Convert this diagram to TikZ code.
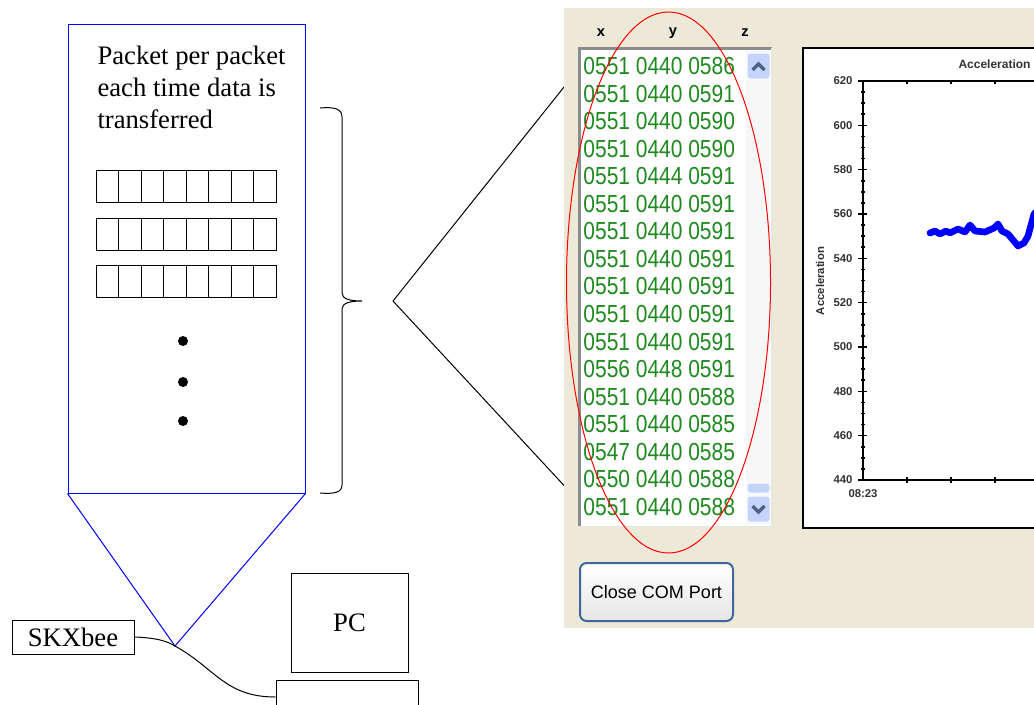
\documentclass[tikz,border=0pt]{standalone}
\usepackage{fontspec}
\setmainfont{Liberation Serif}
\newfontfamily\guifont{Liberation Sans}
\definecolor{panelbg}{HTML}{ECE9D8}
\definecolor{listgreen}{HTML}{1F8A1F}
\definecolor{btnedge}{HTML}{3D6898}
\definecolor{scrollblue}{HTML}{C4D4FA}
\definecolor{arrowblue}{HTML}{4D6185}
\tikzset{every picture/.style={line width=0.75pt}}
\tikzset{
  boxlabel/.style={draw, inner sep=0pt, font=\fontsize{20pt}{24pt}\selectfont},
  listrow/.style={anchor=west, inner sep=0pt, xscale=0.85, text=listgreen,
    font=\guifont\fontsize{18.5pt}{20pt}\selectfont},
  ticklabel/.style={anchor=east, inner sep=0pt, text=black!80,
    font=\guifont\bfseries\fontsize{8.5pt}{9pt}\selectfont},
  colhead/.style={inner sep=0pt, font=\guifont\bfseries\fontsize{11pt}{12pt}\selectfont},
  scrollbtn/.style={fill=scrollblue, draw=white, rounded corners=2pt}
}

\begin{document}
\begin{tikzpicture}[x=0.75pt,y=0.75pt,yscale=-1,xscale=1]
    \useasboundingbox (0,0) rectangle (1034,704);
    %Shape: Rectangle [id:packetbox]
    \node (packet) [draw=blue, inner sep=0pt, minimum width=177.75pt, minimum height=351.75pt] at (186.5,258.5) {};
    %Text Node [id:caption]
    \node (caption) [anchor=north west, inner sep=0pt, align=left, font=\fontsize{20pt}{24pt}\selectfont] at (97,45) {Packet per packet\\each time data is\\transferred};
    %Packets
    \foreach \r in {170,218,265}
      \foreach \c in {0,...,7}
        \draw (96+22.5*\c,\r) rectangle ++(22.5,32);
    %Dots
    \foreach \d in {341,382,421}
      \fill (183,\d) circle (5);
    %Brace
    \draw (320,108) .. controls (333,107) and (342,108) .. (342,117) -- (342,293)
      .. controls (342,299) and (350,301) .. (362,301)
      .. controls (350,301) and (342,303) .. (342,309) -- (342,485)
      .. controls (342,493) and (333,494) .. (320,493);
    \coordinate (zoomtip) at (393,301);
    \coordinate (listtop) at (584,62);
    \coordinate (listbot) at (596,520);
    %Straight Lines [id:zoomcone]
    \draw (listtop) -- (zoomtip) -- (listbot);
    %Straight Lines [id:bluecone]
    \coordinate (apex) at (175,646);
    \draw[blue] (packet.south west) -- (apex) -- (packet.south east);

    %Screenshot panel
    \fill[panelbg] (564,8) rectangle (1034,628);
    %List box
    \fill[white] (578,48) rectangle (772,527);
    \draw[black!45, line width=2.5pt] (579.5,527) -- (579.5,48.5) -- (772,48.5);
    \draw[black!10] (578,526.5) -- (771.5,526.5) -- (771.5,48);
    \fill[black!3] (746,51) rectangle (770,524);
    %Column heads
    \node (colx) [colhead] at (601,33) {x};
    \node (coly) [colhead] at (673,33) {y};
    \node (colz) [colhead] at (745,33) {z};
    %Rows
    \foreach \v [count=\i from 0] in {0551 0440 0586, 0551 0440 0591, 0551 0440 0590,
        0551 0440 0590, 0551 0444 0591, 0551 0440 0591, 0551 0440 0591,
        0551 0440 0591, 0551 0440 0591, 0551 0440 0591, 0551 0440 0591,
        0556 0448 0591, 0551 0440 0588, 0551 0440 0585, 0547 0440 0585,
        0550 0440 0588, 0551 0440 0588}
      \node (row\i) [listrow] at (583,66+27.56*\i) {\v};
    %Scroll buttons
    \draw[scrollbtn] (747,53) rectangle (770,79);
    \draw[arrowblue, line width=2.5pt] (752.5,70) -- (758.5,64) -- (764.5,70);
    \draw[scrollbtn] (747,483) rectangle (770,493);
    \draw[scrollbtn] (747,496) rectangle (770,522);
    \draw[arrowblue, line width=2.5pt] (752.5,506) -- (758.5,512) -- (764.5,506);
    %Ellipse
    \draw[red] (668.5,282.5) ellipse (102 and 270.5);

    %Chart
    \draw[fill=white, line width=1.5pt] (803,48) rectangle (1040,528);
    \node (title) [anchor=west, inner sep=0pt, font=\guifont\bfseries\fontsize{9pt}{10pt}\selectfont, text=black!80] at (958,64) {Acceleration};
    \node (ylabel) [rotate=90, inner sep=0pt, font=\guifont\bfseries\fontsize{8.5pt}{9pt}\selectfont, text=black!80] at (820,281) {Acceleration};
    \draw[line width=1.5pt] (1040,81) -- (863,81) -- (863,480) -- (1040,480);
    \foreach \v [count=\k from 0] in {620,600,...,440} {
      \draw[line width=1.2pt] (858,81+44.33*\k) -- (867,81+44.33*\k);
      \node [ticklabel] at (853,81+44.33*\k) {\v};
    }
    \foreach \k in {0,...,8}
      \foreach \m in {1,2,3}
        \draw[line width=1.2pt] (861,81+44.33*\k+11.08*\m) -- (865,81+44.33*\k+11.08*\m);
    \foreach \j in {1,...,4} {
      \draw[line width=1.2pt] (863+44*\j,477) -- (863+44*\j,483);
      \draw[line width=1.2pt] (863+44*\j,80) -- (863+44*\j,84);
    }
    \node (xstart) [inner sep=0pt, text=black!80, font=\guifont\bfseries\fontsize{8.5pt}{9pt}\selectfont] at (863,494) {08:23};
    %Data
    \draw[blue, line width=5pt, line join=round, line cap=round]
      (930,233) -- (935,231) -- (940,234) -- (946,231) -- (950,233) -- (958,229) -- (965,232) -- (970,225)
      -- (975,231) -- (985,232) -- (994,228) -- (998,224) -- (1002,231)
      -- (1008,234) -- (1013,240) -- (1018,246) -- (1024,243) -- (1028,236)
      -- (1031,225) -- (1034,214) -- (1038,210);
    %Button
    \node (closebtn) [draw=btnedge, line width=1.5pt, rounded corners=5pt, top color=white, bottom color=black!10,
      minimum width=114.75pt, minimum height=43.5pt, inner sep=0pt,
      font=\guifont\fontsize{13.5pt}{15pt}\selectfont] at (656.5,592) {Close COM Port};

    %Bottom part
    \node (skx) [boxlabel, minimum width=91.5pt, minimum height=25.5pt] at (73,637) {SKXbee};
    \node (pc) [boxlabel, minimum width=87.75pt, minimum height=74.25pt] at (349.5,622.5) {PC};
    \node (base) [draw, inner sep=0pt, minimum width=106.5pt, minimum height=25.5pt] at (347,697) {};
    %Curve Lines [id:cable]
    \draw (skx.east) .. controls (160,638) and (168,642) .. (apex)
      .. controls (215,668) and (225,697) .. (base.west);
\end{tikzpicture}
\end{document}
